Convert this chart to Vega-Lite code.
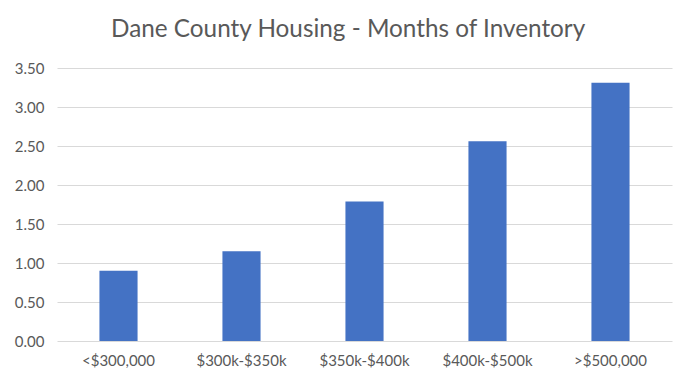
{
  "$schema": "https://vega.github.io/schema/vega-lite/v6.json",
  "autosize": {"type": "none"},
  "padding": {"left": 57, "top": 68, "right": 22, "bottom": 42},
  "width": 615,
  "height": 273,
  "background": "white",
  "title": {
    "text": "Dane County Housing - Months of Inventory",
    "font": "Lato",
    "fontSize": 24.3,
    "fontWeight": "normal",
    "color": "#595959",
    "anchor": "start",
    "frame": "group",
    "baseline": "alphabetic",
    "dx": 54,
    "offset": 0
  },
  "data": {
    "values": [
      {"range": "<$300,000", "months": 0.90},
      {"range": "$300k-$350k", "months": 1.15},
      {"range": "$350k-$400k", "months": 1.79},
      {"range": "$400k-$500k", "months": 2.56},
      {"range": ">$500,000", "months": 3.31}
    ]
  },
  "mark": {"type": "bar", "color": "#4472C4"},
  "encoding": {
    "x": {
      "field": "range",
      "type": "nominal",
      "sort": null,
      "scale": {"paddingInner": 0.69, "paddingOuter": 0.345},
      "axis": {
        "title": null,
        "labelAngle": 0,
        "labelFont": "Lato",
        "labelFontSize": 15,
        "labelColor": "#595959",
        "labelPadding": 12,
        "ticks": false,
        "domain": false
      }
    },
    "y": {
      "field": "months",
      "type": "quantitative",
      "scale": {"domain": [0, 3.5], "nice": false},
      "axis": {
        "title": null,
        "values": [0, 0.5, 1, 1.5, 2, 2.5, 3, 3.5],
        "format": ".2f",
        "labelFont": "Lato",
        "labelFontSize": 15,
        "labelColor": "#595959",
        "labelPadding": 13,
        "ticks": false,
        "domain": false,
        "gridColor": "#d9d9d9",
        "gridWidth": 1
      }
    }
  },
  "config": {"view": {"stroke": null}}
}
